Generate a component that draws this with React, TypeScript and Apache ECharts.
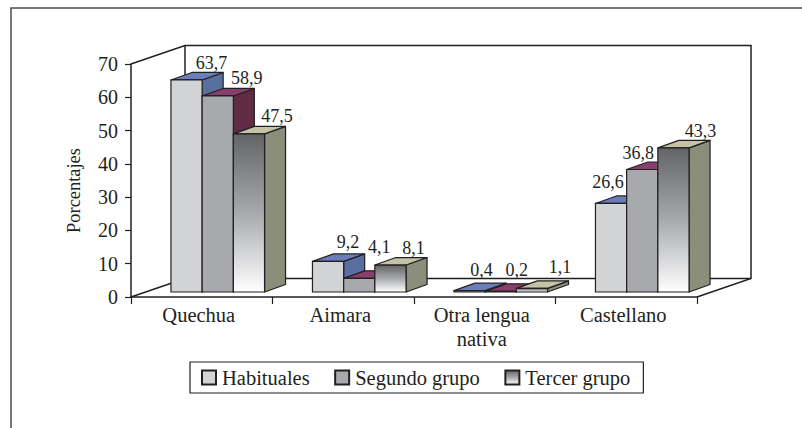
import React, { useEffect, useRef } from "react";
import * as echarts from "echarts";

const categories = ["Quechua", "Aimara", "Otra lengua\nnativa", "Castellano"];
const seriesNames = ["Habituales", "Segundo grupo", "Tercer grupo"];
const habituales = [63.7, 9.2, 0.4, 26.6];
const segundoGrupo = [58.9, 4.1, 0.2, 36.8];
const tercerGrupo = [47.5, 8.1, 1.1, 43.3];
const yTicks = { min: 0, max: 70, interval: 10 };

const FONT = '"Liberation Serif", serif';
const INK = "#231f20";
const DEPTH_X = 21;
const DEPTH_Y = 7.5;
const PLANE_X = 16;
const PLANE_Y = 5;
const BAR_W = 31.2;

const thirdFront = new echarts.graphic.LinearGradient(0, 0, 0, 1, [
  { offset: 0, color: "#636466" },
  { offset: 0.5, color: "#a7a9ac" },
  { offset: 1, color: "#ffffff" },
]);
const fronts: any[] = ["#d1d3d4", "#a7a9ac", thirdFront];
const tops = ["#6a7fb9", "#87406c", "#c4c3a6"];
const sides = ["#596f9f", "#5f2b45", "#8b8e7b"];

// Label nudges (dx from bar centre, dy from bar top), per series then category
const labelDx = [[25, 20, 12, -3], [29, 20, 16, -4], [28, 23, 28, 27]];
const labelDy = [[-17, -19, -21, -21], [-18, -31, -21, -17], [-18, -17, -21, -17]];

function makeRender(s: number) {
  return (params: any, api: any) => {
    const cat = api.value(0);
    const val = api.value(1);
    const [cx, y0] = api.coord([cat, 0]);
    const [, y1] = api.coord([cat, val]);
    const left = cx + PLANE_X + (s - 1.5) * BAR_W;
    const right = left + BAR_W;
    const base = y0 - PLANE_Y;
    const top = y1 - PLANE_Y;
    const line = { stroke: INK, lineWidth: 1.2, lineJoin: "round" };
    return {
      type: "group",
      children: [
        {
          type: "polygon",
          shape: { points: [[right, top], [right + DEPTH_X, top - DEPTH_Y], [right + DEPTH_X, base - DEPTH_Y], [right, base]] },
          style: { fill: sides[s], ...line },
        },
        {
          type: "polygon",
          shape: { points: [[left, top], [left + DEPTH_X, top - DEPTH_Y], [right + DEPTH_X, top - DEPTH_Y], [right, top]] },
          style: { fill: tops[s], ...line },
        },
        {
          type: "rect",
          shape: { x: left, y: top, width: BAR_W, height: base - top },
          style: { fill: fronts[s], ...line },
        },
        {
          type: "text",
          z2: 50,
          x: left + BAR_W / 2 + labelDx[s][cat],
          y: top + labelDy[s][cat],
          style: {
            text: String(val).replace(".", ","),
            font: `18px ${FONT}`,
            fill: INK,
            textAlign: "center",
            textVerticalAlign: "middle",
          },
        },
      ],
    };
  };
}

function wallRender(params: any, api: any) {
  const { x: x0, y: yTop, width, height } = params.coordSys;
  const y0 = yTop + height;
  const x1 = x0 + width;
  const dx = 54;
  const dy = 18.5;
  const st = { stroke: INK, lineWidth: 1.5, fill: "none" };
  return {
    type: "group",
    children: [
      { type: "polyline", shape: { points: [[x0, yTop], [x0 + dx, yTop - dy], [x1 + dx, yTop - dy], [x1 + dx, y0 - dy], [x1, y0]] }, style: st },
      { type: "polyline", shape: { points: [[x0, y0], [x0 + dx, y0 - dy], [x1 + dx, y0 - dy]] }, style: st },
      { type: "line", shape: { x1: x0 + dx, y1: yTop - dy, x2: x0 + dx, y2: y0 - dy }, style: st },
    ],
  };
}

export default function App() {
  const ref = useRef<HTMLDivElement>(null);
  useEffect(() => {
    document.body.style.margin = "0";
    const chart = echarts.init(ref.current!, null, { renderer: "svg" });
    const values = [habituales, segundoGrupo, tercerGrupo];
    chart.setOption({
      animation: false,
      backgroundColor: "#ffffff",
      textStyle: { fontFamily: FONT },
      grid: { left: 131, right: 105, top: 64, bottom: 131 },
      xAxis: {
        type: "category",
        data: categories,
        axisLine: { lineStyle: { color: INK, width: 1.5 } },
        axisTick: { show: true, length: 7, lineStyle: { color: INK, width: 1.2 } },
        axisLabel: { color: INK, fontFamily: FONT, fontSize: 20.5, margin: 6, lineHeight: 24, interval: 0, padding: [0, 6, 0, 0] },
      },
      yAxis: {
        type: "value",
        ...yTicks,
        name: "Porcentajes",
        nameLocation: "middle",
        nameGap: 48,
        nameTextStyle: { color: INK, fontFamily: FONT, fontSize: 18.4, padding: [0, 20, 0, 0] },
        splitLine: { show: false },
        axisLine: { show: true, lineStyle: { color: INK, width: 1.5 } },
        axisTick: { show: true, length: 6, lineStyle: { color: INK, width: 1.2 } },
        axisLabel: { color: INK, fontFamily: FONT, fontSize: 20, margin: 13 },
      },
      legend: {
        left: 190,
        top: 362,
        data: seriesNames,
        orient: "horizontal",
        icon: "rect",
        itemWidth: 14,
        itemHeight: 14,
        itemGap: 24.5,
        borderColor: INK,
        borderWidth: 1.2,
        padding: [5, 13, 5, 11],
        textStyle: { color: INK, fontFamily: FONT, fontSize: 20.5, padding: [0, 0, 0, 1] },
      },
      graphic: [
        {
          type: "polyline",
          silent: true,
          shape: { points: [[11, 428], [11, 8], [802, 8]] },
          style: { fill: "none", stroke: "#4d4d4f", lineWidth: 1.5 },
        },
      ],
      series: [
        {
          type: "custom",
          name: "_walls",
          silent: true,
          data: [[0, 0]],
          renderItem: wallRender,
          encode: { x: 0, y: 1 },
          z: 1,
        },
        ...seriesNames.map((name, s) => ({
          type: "custom",
          name,
          z: 2 + s,
          data: values[s].map((v, i) => [i, v]),
          encode: { x: 0, y: 1 },
          renderItem: makeRender(s),
          itemStyle: { color: fronts[s], borderColor: INK, borderWidth: 1.2 },
        })),
      ],
    });
    return () => chart.dispose();
  }, []);
  return <div ref={ref} style={{ width: 802, height: 428 }} />;
}
